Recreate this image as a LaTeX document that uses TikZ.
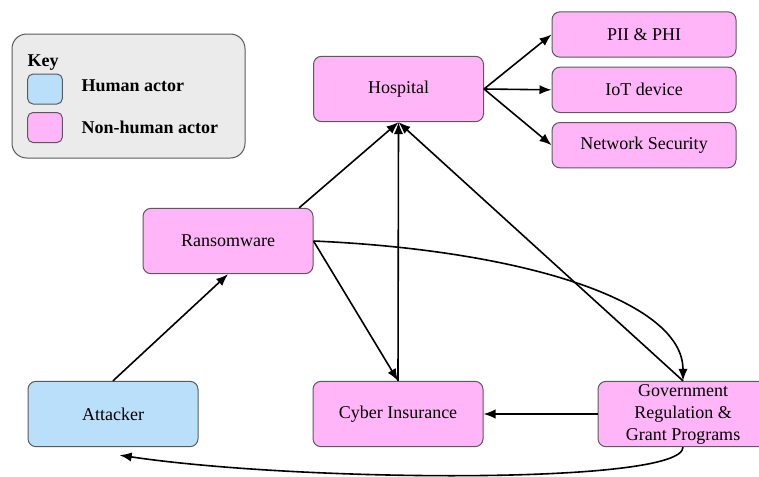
\documentclass[tikz,border=0pt]{standalone}
\usepackage{fontspec}
\setmainfont{Liberation Serif}
\usetikzlibrary{arrows.meta,positioning}
\definecolor{rozsa}{HTML}{FFB5F8}
\definecolor{kek}{HTML}{B9DFFB}
\definecolor{szurke}{HTML}{EBEBEB}
\definecolor{keret}{HTML}{5A5A5A}
\tikzset{
  akt/.style={draw=keret,line width=0.75pt,rounded corners=6pt,align=center,inner sep=1pt,
    minimum width=127.5pt,minimum height=49pt},
  gep/.style={akt,fill=rozsa},
  ember/.style={akt,fill=kek},
  kis/.style={gep,minimum width=138pt,minimum height=34pt},
  nyl/.style={line width=1.2pt,-{Latex[length=9pt,width=7pt]}},
  jel/.style={draw=keret,line width=0.75pt,rounded corners=4pt,minimum width=26pt,
    minimum height=22.5pt,inner sep=0pt},
}

\begin{document}
\begin{tikzpicture}[x=0.75pt,y=-0.75pt,font=\fontsize{13.5}{16.5}\selectfont]
  \useasboundingbox (0,0) rectangle (759,476);
  \clip (0,0) rectangle (759,476);
  % key
  \draw[draw=keret,fill=szurke,line width=0.75pt,rounded corners=11pt] (12,34) rectangle (245,158);
  \node (kulcs) at (43,63) {\bfseries Key};
  \node[jel,fill=kek] (jhum) at (45,89) {};
  \node[jel,fill=rozsa] (jgep) at (45,127.5) {};
  \node[anchor=west] (thum) at (77,86) {\bfseries Human actor};
  \node[anchor=west] (tgep) at (77,127) {\bfseries Non-human actor};
  % actors
  \node[gep] (hosp) at (398.5,89) {Hospital};
  \node[kis] (pii) at (644,34.5) {PII \& PHI};
  \node[kis,below=6.75pt of pii] (iot) {IoT device};
  \node[kis,below=6.75pt of iot] (netsec) {Network Security};
  \node[gep] (ransom) at (228,241) {Ransomware};
  \node[ember] (att) at (113,414) {Attacker};
  \node[gep] (cyber) at (398,414) {Cyber Insurance};
  \node[gep] (gov) at (683,414) {Government\\Regulation \&\\Grant Programs};
  % links
  \foreach \t in {pii,iot,netsec} \draw[nyl] (hosp.east) -- (\t.west);
  \draw[nyl] (att.north) -- (ransom.south);
  \draw[nyl] (ransom.25) -- (hosp.south);
  \draw[nyl] (ransom.east) -- (cyber.north);
  \draw[nyl] (cyber.north) -- (hosp.south);
  \draw[nyl] (gov.north) -- (hosp.south);
  \draw[nyl] (ransom.east) .. controls (520,250) and (683,300) .. (gov.north);
  \draw[nyl] (gov.west) -- (cyber.east);
  \draw[nyl] (gov.south) .. controls (683,485) and (300,482) .. ([xshift=5pt,yshift=-6pt]att.south);
\end{tikzpicture}
\end{document}
